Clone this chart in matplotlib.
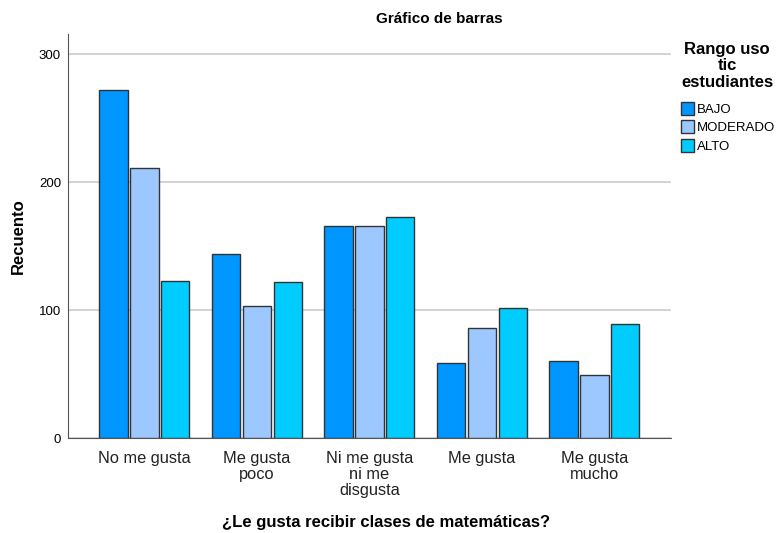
import numpy as np
import matplotlib.pyplot as plt
import matplotlib.patches as mpatches

plt.rcParams['font.family'] = ['Liberation Sans', 'DejaVu Sans']

# Datos
categorias = ['No me gusta', 'Me gusta\npoco', 'Ni me gusta\nni me\ndisgusta', 'Me gusta', 'Me gusta\nmucho']
series = ['BAJO', 'MODERADO', 'ALTO']
bajo = [272, 144, 166, 59, 60]
moderado = [211, 103, 166, 86, 49]
alto = [123, 122, 173, 102, 89]
colores = ['#0096FF', '#9CC8FF', '#00CCFF']

fig = plt.figure(figsize=(7.77, 5.33), dpi=100)
ax = fig.add_axes([0.0875, 0.178, 0.776, 0.758])

x = np.arange(len(categorias))
ancho = 0.25
paso = 0.275
for i, (vals, col) in enumerate(zip([bajo, moderado, alto], colores)):
    ax.bar(x + (i - 1) * paso, vals, width=ancho, color=col,
           edgecolor='#333333', linewidth=1, zorder=3)

ax.set_xlim(-0.68, 4.68)
ax.set_ylim(0, 315.6)
ax.set_yticks([0, 100, 200, 300])
ax.set_xticks(x)
ax.set_xticklabels(categorias, fontsize=11.8, color='#222222', linespacing=1.1)
ax.tick_params(axis='both', length=0)
ax.tick_params(axis='y', labelsize=9.5, pad=5)
ax.tick_params(axis='x', pad=9)
ax.yaxis.grid(True, color='#cccccc', linewidth=1.2, zorder=0)
for s in ['top', 'right']:
    ax.spines[s].set_visible(False)
ax.spines['left'].set_color('#555555')
ax.spines['bottom'].set_color('#555555')

ax.set_ylabel('Recuento', fontsize=12, fontweight='bold', labelpad=9)
fig.text(0.497, 0.006, '¿Le gusta recibir clases de matemáticas?', ha='center',
         va='bottom', fontsize=12, fontweight='bold')
fig.text(0.566, 0.964, 'Gráfico de barras', ha='center', va='center',
         fontsize=11, fontweight='bold')

# titulo de la leyenda aparte
fig.text(0.936, 0.921, 'Rango uso\ntic\nestudiantes', ha='center', va='top',
         fontsize=12, fontweight='bold', linespacing=1.1)
handles = [mpatches.Patch(facecolor=c, edgecolor='#333333', label=s)
           for s, c in zip(series, colores)]
leg = fig.legend(handles=handles, loc='upper left',
                 bbox_to_anchor=(0.864, 0.826), frameon=False,
                 fontsize=9.5, handlelength=1.0,
                 handleheight=1.1, handletextpad=0.25, labelspacing=0.35,
                 borderpad=0.2)

fig.savefig('out.png', dpi=100)
